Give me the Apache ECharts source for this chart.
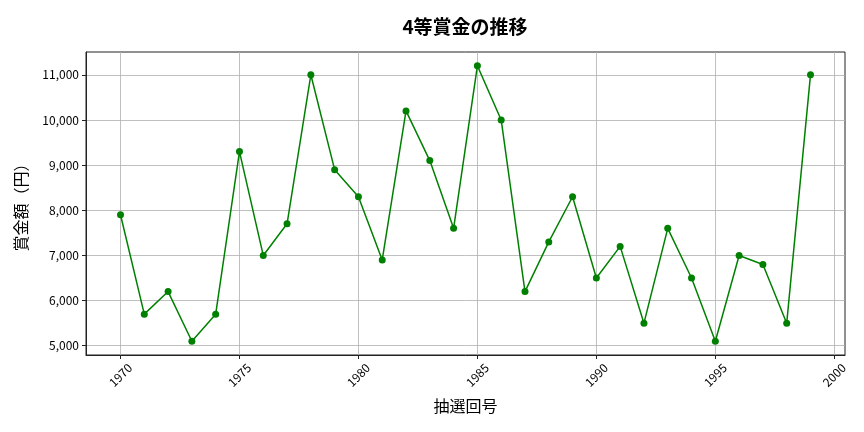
<!DOCTYPE html>
<html>
<head>
<meta charset="utf-8">
<script src="https://cdn.jsdelivr.net/npm/echarts@6/dist/echarts.min.js"></script>
<style>
html,body{margin:0;padding:0;background:#fff;}
#chart{width:864px;height:432px;}
</style>
</head>
<body>
<div id="chart"></div>
<script>
const years = [1970,1971,1972,1973,1974,1975,1976,1977,1978,1979,1980,1981,1982,1983,1984,1985,1986,1987,1988,1989,1990,1991,1992,1993,1994,1995,1996,1997,1998,1999];
const prizes = [7900,5700,6200,5100,5700,9300,7000,7700,11000,8900,8300,6900,10200,9100,7600,11200,10000,6200,7300,8300,6500,7200,5500,7600,6500,5100,7000,6800,5500,11000];
const xTicks = [1970,1975,1980,1985,1990,1995,2000];
const yTicks = [5000,6000,7000,8000,9000,10000,11000];
const titleText = '4等賞金の推移';
const xName = '抽選回号';
const yName = '賞金額（円）';

const FONT = '"Noto Sans CJK JP", "Noto Sans", sans-serif';
const xMin = 1968.55, xMax = 2000.45;
const yMin = 4795, yMax = 11505;

const chart = echarts.init(document.getElementById('chart'), null, {renderer:'canvas'});
chart.setOption({
  animation:false,
  backgroundColor:'#ffffff',
  title:{
    text:titleText, left:460, top:12, textAlign:'center',
    textStyle:{fontFamily:FONT, fontSize:19, fontWeight:'bold', color:'#000'}
  },
  grid:{left:86, right:19, top:52, bottom:77, show:true, borderColor:'#222', borderWidth:1, backgroundColor:'transparent'},
  xAxis:{
    type:'value', min:xMin, max:xMax,
    name:xName, nameLocation:'middle', nameGap:43,
    nameTextStyle:{fontFamily:FONT, fontSize:16, color:'#000'},
    axisLine:{show:true, lineStyle:{color:'#222', width:1}},
    axisTick:{show:true, length:4, lineStyle:{color:'#222'}, customValues:xTicks},
    axisLabel:{customValues:xTicks, rotate:45, align:'center', verticalAlign:'middle', margin:20,
      fontFamily:FONT, fontSize:12, color:'#000', formatter:v=>String(v)},
    splitLine:{show:true, lineStyle:{color:'#b0b0b0', width:0.8}}
  },
  yAxis:{
    type:'value', min:yMin, max:yMax,
    name:yName, nameLocation:'middle', nameGap:57, nameRotate:90,
    nameTextStyle:{fontFamily:FONT, fontSize:16, color:'#000'},
    axisLine:{show:true, lineStyle:{color:'#222', width:1}},
    axisTick:{show:true, length:4, lineStyle:{color:'#222'}, customValues:yTicks},
    axisLabel:{customValues:yTicks, margin:7, fontFamily:FONT, fontSize:12, color:'#000',
      formatter:v=>Number(v).toLocaleString('en-US')},
    splitLine:{show:true, lineStyle:{color:'#b0b0b0', width:0.8}}
  },
  series:[{
    type:'line',
    data:years.map((y,i)=>[y,prizes[i]]),
    symbol:'circle', symbolSize:7,
    lineStyle:{color:'#008000', width:1.5},
    itemStyle:{color:'#008000'},
    z:3
  }]
});
</script>
</body>
</html>
